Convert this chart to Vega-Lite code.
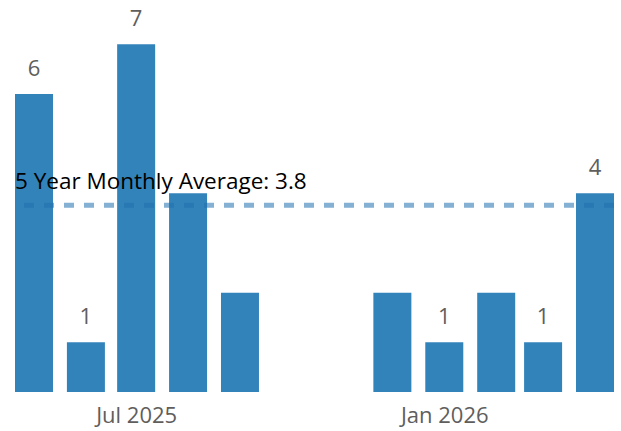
{
  "$schema": "https://vega.github.io/schema/vega-lite/v6.json",
  "width": 599,
  "height": 392,
  "autosize": {"type": "none"},
  "padding": {"left": 15, "right": 7, "top": 0, "bottom": 39},
  "config": {"view": {"stroke": null}, "font": "Open Sans", "scale": {"continuousPadding": 0}},
  "data": {
    "values": [
      {"month": "2025-05-01", "count": 6},
      {"month": "2025-06-01", "count": 1},
      {"month": "2025-07-01", "count": 7},
      {"month": "2025-08-01", "count": 4},
      {"month": "2025-09-01", "count": 2},
      {"month": "2025-10-01", "count": 0},
      {"month": "2025-11-01", "count": 0},
      {"month": "2025-12-01", "count": 2},
      {"month": "2026-01-01", "count": 1},
      {"month": "2026-02-01", "count": 2},
      {"month": "2026-03-01", "count": 1},
      {"month": "2026-04-01", "count": 4}
    ]
  },
  "layer": [
    {
      "mark": {"type": "bar", "size": 38, "color": "#3383bb"},
      "encoding": {
        "x": {
          "field": "month",
          "type": "temporal",
          "title": null,
          "scale": {
            "type": "utc",
            "padding": 0,
            "nice": false,
            "domain": [
              {"year": 2025, "month": 4, "date": 19, "hours": 15, "minutes": 42, "utc": true},
              {"year": 2026, "month": 4, "date": 12, "hours": 8, "minutes": 18, "utc": true}
            ]
          },
          "axis": {
            "values": [
              {"year": 2025, "month": 7, "date": 1, "utc": true},
              {"year": 2026, "month": 1, "date": 1, "utc": true}
            ],
            "format": "%b %Y",
            "domain": false,
            "ticks": false,
            "grid": false,
            "labelFontSize": 22,
            "labelColor": "#605E5C",
            "labelPadding": 13,
            "labelBaseline": "top"
          }
        },
        "y": {
          "field": "count",
          "type": "quantitative",
          "scale": {"domain": [0, 7.89], "nice": false, "zero": true},
          "axis": null
        }
      }
    },
    {
      "transform": [
        {"filter": "datum.count > 0 && datum.count != 2 && utcmonth(toDate(datum.month)) != 7"}
      ],
      "mark": {"type": "text", "baseline": "alphabetic", "dy": -18, "fontSize": 22, "color": "#605E5C"},
      "encoding": {
        "x": {"field": "month", "type": "temporal"},
        "y": {"field": "count", "type": "quantitative", "scale": {"domain": [0, 7.89], "nice": false}},
        "text": {"field": "count", "type": "quantitative"}
      }
    },
    {
      "data": {"values": [{"avg": 3.76, "label": "5 Year Monthly Average: 3.8"}]},
      "mark": {"type": "rule", "color": "#1f6fae", "opacity": 0.55, "strokeWidth": 5, "strokeDash": [10, 10]},
      "encoding": {
        "y": {"field": "avg", "type": "quantitative", "scale": {"domain": [0, 7.89], "nice": false}}
      }
    },
    {
      "data": {"values": [{"avg": 3.76, "label": "5 Year Monthly Average: 3.8"}]},
      "mark": {"type": "text", "align": "left", "baseline": "alphabetic", "dy": -16, "fontSize": 22.5, "color": "#000000"},
      "encoding": {
        "x": {"datum": {"year": 2025, "month": 4, "date": 19, "hours": 15, "minutes": 42, "utc": true}, "type": "temporal"},
        "y": {"field": "avg", "type": "quantitative", "scale": {"domain": [0, 7.89], "nice": false}},
        "text": {"field": "label"}
      }
    }
  ]
}
